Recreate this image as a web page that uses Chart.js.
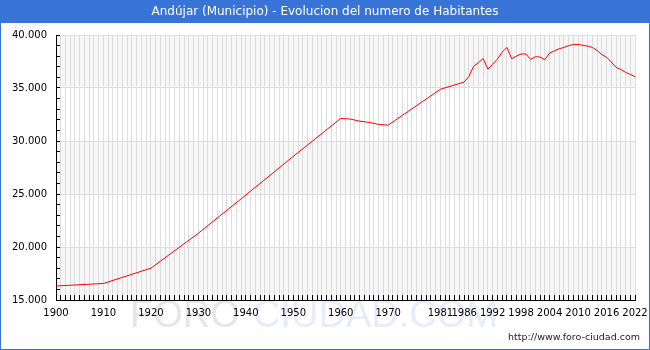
<!DOCTYPE html>
<html>
<head>
<meta charset="utf-8">
<script src="https://cdn.jsdelivr.net/npm/chart.js@4.4.1/dist/chart.umd.min.js"></script>
<style>
  html, body { margin: 0; padding: 0; background: #fff; }
  #wrap { width: 650px; height: 350px; }
</style>
</head>
<body>
<div id="wrap"><canvas id="myChart" width="650" height="350"></canvas></div>
<script>
const chartTitle = 'Andújar (Municipio) - Evolucion del numero de Habitantes';

// years with a population figure, and the figure
const years = [1900, 1910, 1920, 1930, 1940, 1950, 1960, 1962, 1964, 1966, 1968, 1970,
  1981, 1986, 1987, 1988, 1989, 1990, 1991, 1992, 1993, 1994, 1995, 1996, 1997,
  1998, 1999, 2000, 2001, 2002, 2003, 2004, 2005, 2006, 2007, 2008, 2009, 2010,
  2011, 2012, 2013, 2014, 2015, 2016, 2017, 2018, 2019, 2020, 2021, 2022];
const habitantes = [16320, 16560, 18000, 21300, 24900, 28550, 32130, 32070, 31870, 31760, 31560, 31500,
  34880, 35560, 36100, 37050, 37380, 37770, 36780, 37250, 37720, 38380, 38830, 37770, 38000,
  38210, 38210, 37700, 37950, 37920, 37670, 38300, 38500, 38700, 38820, 39000, 39110, 39110,
  39030, 38950, 38830, 38550, 38150, 37900, 37450, 36950, 36750, 36480, 36280, 36070];

// years that get a label on the x axis
const xLabelYears = [1900, 1910, 1920, 1930, 1940, 1950, 1960, 1970, 1981, 1986, 1992, 1998, 2004, 2010, 2016, 2022];

const fmt = v => String(v).replace(/\B(?=(\d{3})+(?!\d))/g, '.');

Chart.defaults.font.family = '"DejaVu Sans", Verdana, sans-serif';
Chart.defaults.font.size = 10;
Chart.defaults.color = '#000';

// title bar, bands, watermark, url, frame
const decor = {
  id: 'decor',
  beforeDraw(chart) {
    const { ctx, chartArea: a } = chart;
    const y = chart.scales.y;
    ctx.save();
    ctx.fillStyle = '#fff';
    ctx.fillRect(0, 0, chart.width, chart.height);

    ctx.fillStyle = '#f7f7f7';
    for (let v = 15000; v < 40000; v += 10000) {
      const top = y.getPixelForValue(v + 5000);
      const bot = y.getPixelForValue(v);
      ctx.fillRect(a.left, top, a.right - a.left, bot - top);
    }

    ctx.font = '38px "Liberation Sans", Arial, sans-serif';
    ctx.textBaseline = 'alphabetic';
    ctx.textAlign = 'left';
    ctx.fillStyle = '#e6e6e6';
    ctx.fillText('FORO', 130, 327);
    ctx.fillStyle = '#eaeafd';
    ctx.fillText('CIUDAD.COM', 253, 327);

    ctx.fillStyle = '#3874d8';
    ctx.fillRect(0, 0, chart.width, 23);
    ctx.fillStyle = '#fff';
    ctx.font = '12px "DejaVu Sans", sans-serif';
    ctx.textAlign = 'center';
    ctx.textBaseline = 'middle';
    ctx.fillText(chartTitle, 325, 12);

    ctx.fillStyle = '#222';
    ctx.font = '9.5px "DejaVu Sans", sans-serif';
    ctx.textAlign = 'right';
    ctx.fillText('http://www.foro-ciudad.com', 640, 338);

    ctx.strokeStyle = '#3874d8';
    ctx.lineWidth = 1;
    ctx.strokeRect(0.5, 0.5, chart.width - 1, chart.height - 1);
    ctx.restore();
  }
};

const ctx = document.getElementById('myChart').getContext('2d');
const chart = new Chart(ctx, {
  type: 'line',
  data: {
    datasets: [{
      data: years.map((yr, i) => ({ x: yr, y: habitantes[i] })),
      borderColor: '#ff0000',
      borderWidth: 1,
      pointRadius: 0,
      fill: false,
      tension: 0
    }]
  },
  options: {
    responsive: false,
    animation: false,
    devicePixelRatio: 1,
    layout: { padding: { left: 0, top: 35, right: 15, bottom: 0 } },
    plugins: { legend: { display: false }, title: { display: false }, tooltip: { enabled: false } },
    scales: {
      x: {
        type: 'linear',
        min: 1900,
        max: 2022,
        afterFit: s => { s.height = 50; s.paddingLeft = 0; s.paddingRight = 0; },
        grid: { color: '#dddddd', lineWidth: 1, tickColor: '#000', tickLength: -5 },
        border: { color: '#000', width: 1 },
        ticks: {
          stepSize: 1,
          autoSkip: false,
          maxRotation: 0,
          padding: 12,
          callback: v => xLabelYears.includes(v) ? String(v) : ''
        }
      },
      y: {
        min: 15000,
        max: 40000,
        afterFit: s => { s.width = 56; s.paddingTop = 0; s.paddingBottom = 0; },
        grid: {
          color: c => (c.tick && c.tick.value % 5000 === 0) ? '#dddddd' : 'rgba(0,0,0,0)',
          tickColor: '#000',
          tickLength: -4
        },
        border: { color: '#000', width: 1 },
        ticks: {
          stepSize: 1000,
          autoSkip: false,
          padding: 13,
          callback: v => v % 5000 === 0 ? fmt(v) : ''
        }
      }
    }
  },
  plugins: [decor]
});
</script>
</body>
</html>
